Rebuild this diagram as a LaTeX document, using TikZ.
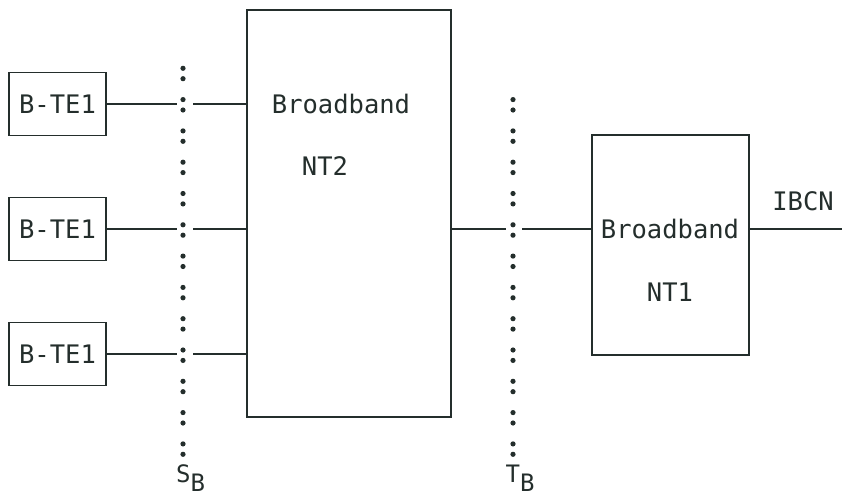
\documentclass[tikz,border=0pt]{standalone}
\usepackage{fontspec}
\setmonofont{DejaVu Sans Mono}
\usepackage{tikz}
\usetikzlibrary{positioning}
\definecolor{ink}{RGB}{36,46,44}

\begin{document}
\begin{tikzpicture}[
  x=1pt, y=-1pt,
  every node/.style={font=\ttfamily\fontsize{25.5}{28}\selectfont, text=ink},
  box/.style={rectangle, draw=ink, line width=1.8pt, inner sep=0pt},
  te/.style={box, minimum width=97pt, minimum height=63pt},
  wire/.style={draw=ink, line width=1.5pt},
  point/.style={font=\ttfamily\fontsize{24}{26}\selectfont, anchor=base west, inner sep=0pt}
]
\useasboundingbox (0,0) rectangle (842,500);

% terminals
\node[te] (te1) at (57.5,104) {B-TE1};
\node[te] (te2) at (57.5,229) {B-TE1};
\node[te] (te3) at (57.5,354) {B-TE1};

% network terminations
\node[box, minimum width=204pt, minimum height=407pt] (nt2) at (349,213.5) {};
\node (nt2a) at (341,104) {Broadband};
\node (nt2b) at (325,166) {NT2};
\node[box, minimum width=157pt, minimum height=220pt] (nt1) at (670.5,245) {};
\node (nt1a) at (670,229) {Broadband};
\node (nt1b) at (670,292) {NT1};
\node (ibcn) at (803,201) {IBCN};

% reference points
\foreach \k in {0,...,12}
  \fill[ink] (183,68.3+31.3*\k) circle (2.6pt) (183,78.7+31.3*\k) circle (2.6pt);
\foreach \k in {1,...,12}
  \fill[ink] (513,68.3+31.3*\k) circle (2.6pt) (513,78.7+31.3*\k) circle (2.6pt);
\node[point] (sb) at (176,482) {S\raisebox{-9pt}{B}};
\node[point] (tb) at (505.5,482) {T\raisebox{-9pt}{B}};

% wiring
\foreach \i/\y in {1/104,2/229,3/354} {
  \coordinate (sbl\i) at (177,\y);
  \coordinate (sbr\i) at (193,\y);
  \draw[wire] (te\i.east) -- (sbl\i);
  \draw[wire] (sbr\i) -- (nt2.west |- sbr\i);
}
\coordinate (tbl) at (506,229);
\coordinate (tbr) at (522,229);
\coordinate (net) at (842,229);
\draw[wire] (nt2.east |- tbl) -- (tbl);
\draw[wire] (tbr) -- (nt1.west |- tbr);
\draw[wire] (nt1.east |- net) -- (net);
\end{tikzpicture}
\end{document}
